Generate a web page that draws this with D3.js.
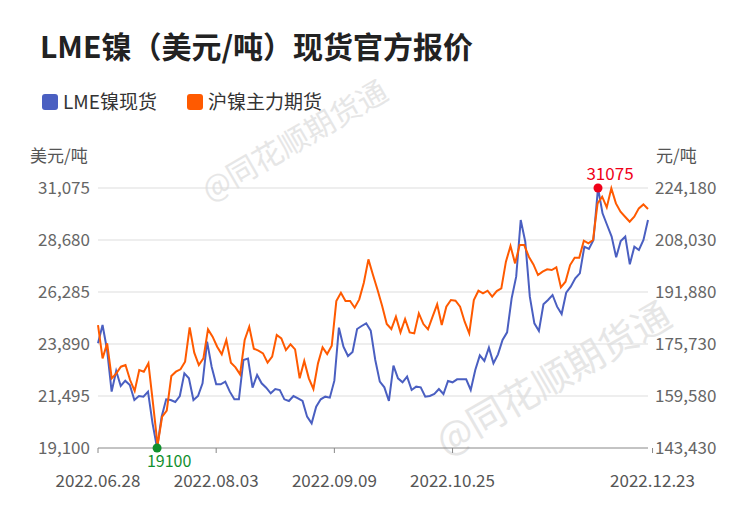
<!DOCTYPE html>
<html><head><meta charset="utf-8">
<script src="https://cdn.jsdelivr.net/npm/d3@7"></script>
<style>body{margin:0;background:#fff}text{font-family:"Noto Sans CJK SC","Noto Sans",sans-serif}</style>
</head><body><svg id="c" width="750" height="510"></svg>
<script>
const lme=[23920,24765,23614,21695,22647,21956,22201,22002,21311,21495,21464,21695,20236,19100,20543,21342,21311,21219,21495,22539,22309,21311,21495,22078,23998,22846,22032,22032,22155,21695,21342,21342,23153,23215,21879,22462,22078,21879,21618,21817,21771,21342,21265,21495,21388,21265,20543,20236,21004,21342,21464,21418,22201,24642,23767,23337,23522,24581,24719,24842,24504,23153,22155,
21894,21265,22892,22309,22125,22386,21771,21925,21894,21464,21495,21587,21817,21587,22186,22125,22263,22263,22263,21771,22693,23368,23107,23721,23000,23414,24074,24427,25993,26991,29601,28603,26070,24842,24489,25717,25917,26147,25610,25272,26254,26531,26915,27145,28373,28266,28680,31075,29909,29371,28834,27882,28634,28834,27559,28373,28220,28680,29601];
const shfe=[181620,171270,175930,165060,166610,168680,169200,164540,161130,167650,167130,169720,157300,144360,153160,155020,165790,167130,167860,170240,180900,173030,169200,171270,180280,178000,174890,172510,176960,169930,168480,166300,176960,181100,174270,173650,172820,169930,171790,178520,177480,173860,175620,174070,165060,170440,165060,161750,169720,174690,172620,175200,189070,191660,189070,189070,187000,189590,194770,202010,197150,192490,187520,
181930,180380,184210,179340,183480,179340,179030,185240,181930,180280,184210,188040,181620,187310,189380,189180,187310,182660,179030,189380,192280,191450,192280,190420,192180,193010,201290,206150,200770,206460,206460,202840,200460,197150,198180,198910,198700,199530,193320,195080,200250,202530,202530,207810,206980,208010,219400,221470,218160,224060,219400,216810,215260,213710,215260,217850,219090,217640];
const leftTicks=[19100,21495,23890,26285,28680,31075];
const rightTicks=[143430,159580,175730,191880,208030,224180];
const dateLabels=[[0,"2022.06.28"],[26,"2022.08.03"],[52,"2022.09.09"],[78,"2022.10.25"],[122,"2022.12.23"]];
const svg=d3.select("#c");
const L=98,R=648,T=188,B=448;
const yl=d3.scaleLinear().domain([19100,31075]).range([B,T]);
const yr=d3.scaleLinear().domain([143430,224180]).range([B,T]);
const N=Math.max(lme.length,shfe.length)-1;
const x=d3.scaleLinear().domain([0,N]).range([L,R]);
[[300,150],[560,390]].forEach(([cx,cy])=>svg.append("text").attr("transform",`translate(${cx},${cy}) rotate(-30)`).attr("text-anchor","middle").attr("font-size",cx<400?30:38).attr("fill","#e6e6e6").text("@同花顺期货通"));
svg.append("text").attr("x",40).attr("y",58).attr("font-size",30).attr("font-weight","bold").attr("fill","#222").text("LME镍（美元/吨）现货官方报价");
[[42,"#4a5fc1","LME镍现货"],[187,"#ff5a00","沪镍主力期货"]].forEach(([lx,c,t])=>{
 svg.append("rect").attr("x",lx).attr("y",94).attr("width",16).attr("height",16).attr("rx",3).attr("fill",c);
 svg.append("text").attr("x",lx+21).attr("y",109).attr("font-size",19).attr("fill","#333").text(t);});
svg.append("text").attr("x",30).attr("y",162).attr("font-size",17).attr("fill","#555").text("美元/吨");
svg.append("text").attr("x",656).attr("y",162).attr("font-size",17).attr("fill","#555").text("元/吨");
leftTicks.forEach(v=>{svg.append("line").attr("x1",L).attr("x2",R).attr("y1",yl(v)).attr("y2",yl(v)).attr("stroke",v===19100?"#888":"#ddd").attr("stroke-width",1);
 svg.append("text").attr("x",90).attr("y",yl(v)+6).attr("text-anchor","end").attr("font-size",17).attr("fill","#666").text(d3.format(",")(v));});
rightTicks.forEach(v=>svg.append("text").attr("x",655).attr("y",yr(v)+6).attr("font-size",17).attr("fill","#666").text(d3.format(",")(v)));
dateLabels.forEach(([i,t])=>{svg.append("line").attr("x1",x(i)).attr("x2",x(i)).attr("y1",B).attr("y2",B+5).attr("stroke","#888");
 svg.append("text").attr("x",x(i)).attr("y",487).attr("text-anchor","middle").attr("font-size",17).attr("fill","#555").text(t);});
const xs=arr=>d3.scaleLinear().domain([0,arr.length-1]).range([L,R]);
const xl=xs(lme),xr=xs(shfe);
svg.append("path").attr("d",d3.line().x((d,i)=>xl(i)).y(d=>yl(d))(lme)).attr("fill","none").attr("stroke","#4a5fc1").attr("stroke-width",2);
svg.append("path").attr("d",d3.line().x((d,i)=>xr(i)).y(d=>yr(d))(shfe)).attr("fill","none").attr("stroke","#ff5a00").attr("stroke-width",2);
const imax=lme.indexOf(d3.max(lme)),imin=lme.indexOf(d3.min(lme));
svg.append("circle").attr("cx",xl(imax)).attr("cy",yl(lme[imax])).attr("r",4.5).attr("fill","#f00018");
svg.append("text").attr("x",xl(imax)+12).attr("y",yl(lme[imax])-8).attr("text-anchor","middle").attr("font-size",17).attr("fill","#f00018").text(lme[imax]);
svg.append("circle").attr("cx",xl(imin)).attr("cy",yl(lme[imin])).attr("r",4.5).attr("fill","#10902e");
svg.append("text").attr("x",xl(imin)+12).attr("y",yl(lme[imin])+19).attr("text-anchor","middle").attr("font-size",16).attr("fill","#10902e").text(lme[imin]);
</script></body></html>
